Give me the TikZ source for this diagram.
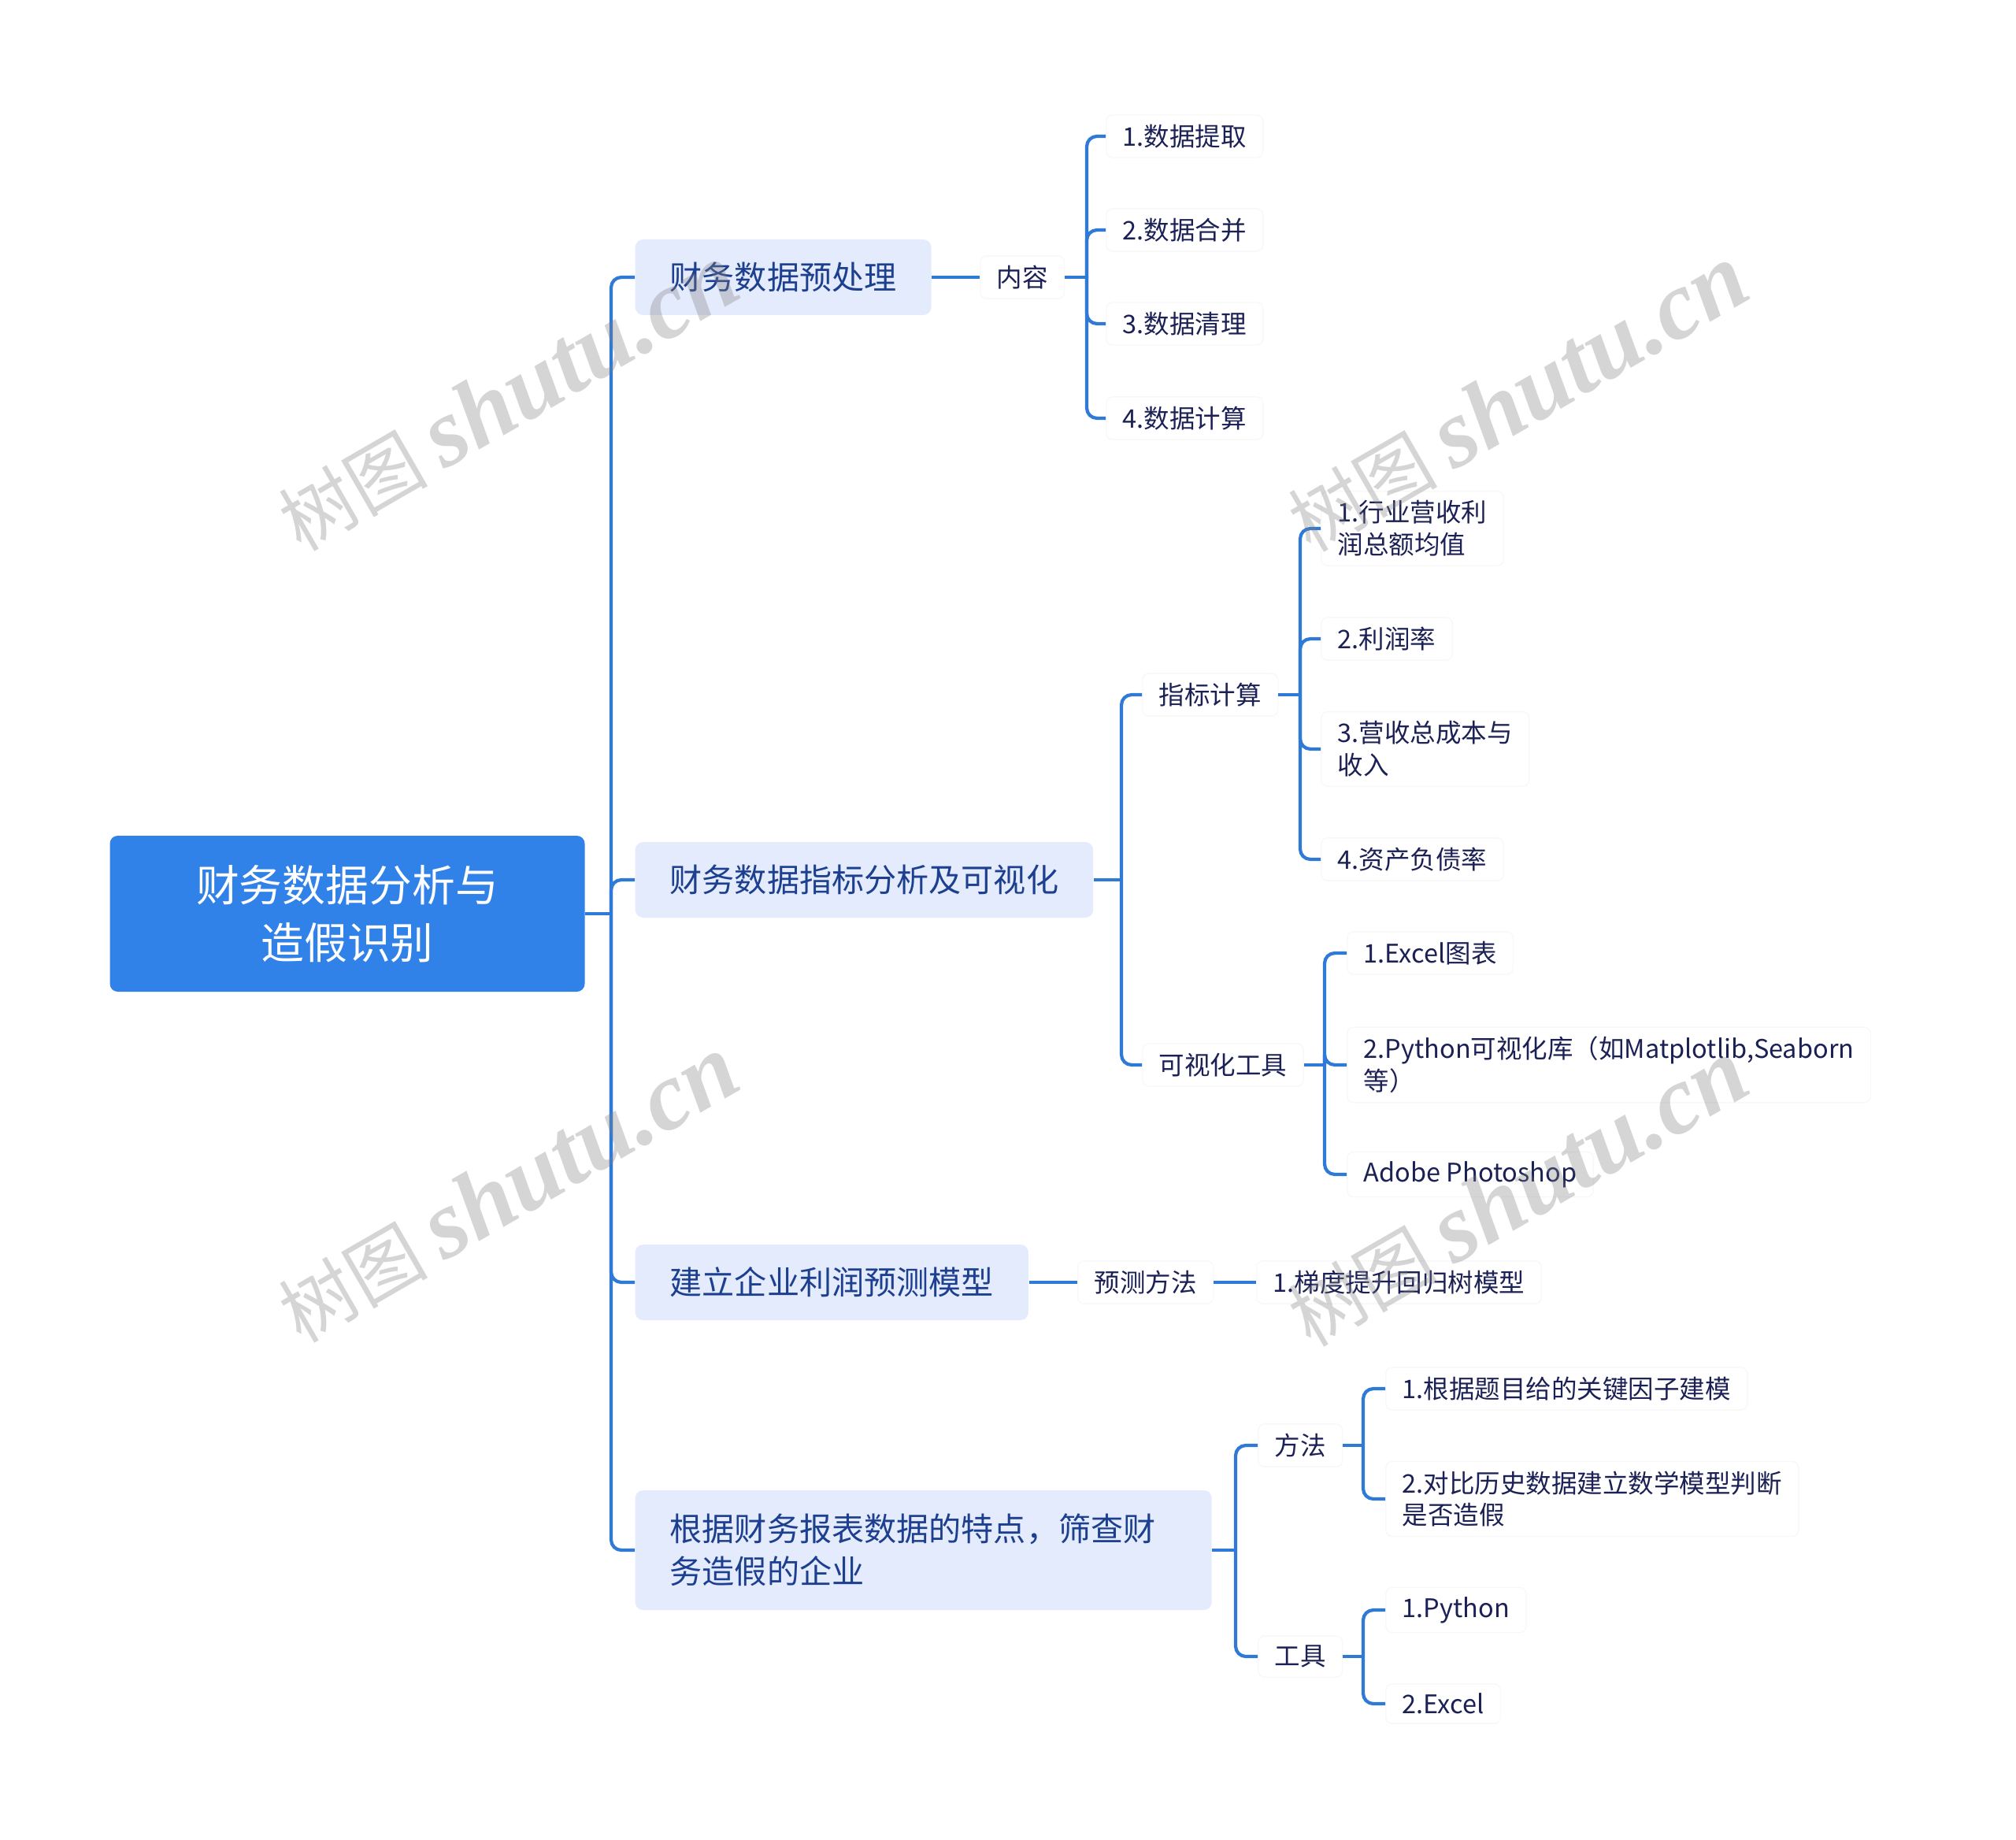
\documentclass[tikz,border=0pt]{standalone}
\usepackage{fontspec}
\setmainfont{Noto Sans CJK SC}
\newfontfamily\markfont{Liberation Serif}
\definecolor{rootblue}{HTML}{3081E8}
\definecolor{boxblue}{HTML}{E4EBFC}
\definecolor{lineblue}{HTML}{2F7AD6}
\definecolor{headtext}{HTML}{1D3F8F}
\definecolor{leaftext}{HTML}{1C2155}
\definecolor{faint}{HTML}{F8F8F9}
\tikzset{
  rootbox/.style={fill=rootblue, rounded corners=0.1cm, text=white, align=center,
    minimum width=6.03cm, minimum height=1.98cm, font=\fontsize{15.6}{20.8}\selectfont},
  headbox/.style={fill=boxblue, rounded corners=0.1cm, text=headtext, anchor=west,
    inner xsep=0.44cm, minimum height=0.96cm, font=\fontsize{11.7}{15.3}\selectfont},
  leaf/.style={fill=white, draw=faint, rounded corners=0.08cm, text=leaftext, anchor=west,
    align=left, inner xsep=0.21cm, inner ysep=0.12cm, font=\fontsize{9.25}{11.6}\selectfont},
  branch/.style={draw=lineblue, line width=1.2pt, rounded corners=0.13cm},
  watermark/.style={text=gray, opacity=0.33, rotate=30, font=\fontsize{27}{27}\selectfont}
}
\newcommand{\markname}{树图 {\markfont\bfseries\itshape\fontsize{35}{35}\selectfont shutu.cn}}
\begin{document}
\begin{tikzpicture}[x=1cm,y=-1cm]
  \useasboundingbox (0,0) rectangle (25.60,23.36);
  % root and main branches
  \node[rootbox] (root) at (4.41,11.60) {财务数据分析与\\造假识别};
  \node[headbox] (pre) at (8.06,3.52) {财务数据预处理};
  \node[headbox] (viz) at (8.06,11.17) {财务数据指标分析及可视化};
  \node[headbox] (model) at (8.06,16.28) {建立企业利润预测模型};
  \node[headbox, text width=6.44cm, align=left, minimum height=1.52cm] (fraud) at (8.06,19.68)
    {根据财务报表数据的特点，筛查财\\务造假的企业};
  % preprocessing
  \node[leaf] (cont) at (12.44,3.52) {内容};
  \node[leaf] (cont1) at (14.04,1.73) {1.数据提取};
  \node[leaf] (cont2) at (14.04,2.92) {2.数据合并};
  \node[leaf] (cont3) at (14.04,4.11) {3.数据清理};
  \node[leaf] (cont4) at (14.04,5.31) {4.数据计算};
  % indicators and visualisation
  \node[leaf] (metric) at (14.50,8.82) {指标计算};
  \node[leaf] (metric1) at (16.77,6.71) {1.行业营收利\\润总额均值};
  \node[leaf] (metric2) at (16.77,8.11) {2.利润率};
  \node[leaf] (metric3) at (16.77,9.51) {3.营收总成本与\\收入};
  \node[leaf] (metric4) at (16.77,10.91) {4.资产负债率};
  \node[leaf] (tools) at (14.50,13.52) {可视化工具};
  \node[leaf] (tools1) at (17.10,12.10) {1.Excel图表};
  \node[leaf] (tools2) at (17.10,13.52) {2.Python可视化库（如Matplotlib,Seaborn\\等）};
  \node[leaf] (tools3) at (17.10,14.91) {Adobe Photoshop};
  % prediction model
  \node[leaf] (method) at (13.68,16.28) {预测方法};
  \node[leaf] (gbr) at (15.95,16.28) {1.梯度提升回归树模型};
  % fraud screening
  \node[leaf] (way) at (15.97,18.35) {方法};
  \node[leaf] (way1) at (17.59,17.63) {1.根据题目给的关键因子建模};
  \node[leaf] (way2) at (17.59,19.03) {2.对比历史数据建立数学模型判断\\是否造假};
  \node[leaf] (kit) at (15.97,21.03) {工具};
  \node[leaf] (kit1) at (17.59,20.44) {1.Python};
  \node[leaf] (kit2) at (17.59,21.63) {2.Excel};
  % junctions
  \coordinate (jroot) at (7.76,11.60);
  \coordinate (jcont) at (13.80,3.52);
  \coordinate (jviz) at (14.24,11.17);
  \coordinate (jmetric) at (16.51,8.82);
  \coordinate (jtools) at (16.82,13.52);
  \coordinate (jfraud) at (15.69,19.68);
  \coordinate (jway) at (17.31,18.35);
  \coordinate (jkit) at (17.31,21.03);
  % connectors
  \draw[branch] (root.east) -- (jroot);
  \foreach \n in {pre,viz,model,fraud} \draw[branch] (jroot) |- (\n.west);
  \draw[branch] (pre.east) -- (cont.west);
  \draw[branch] (cont.east) -- (jcont);
  \foreach \n in {cont1,cont2,cont3,cont4} \draw[branch] (jcont) |- (\n.west);
  \draw[branch] (viz.east) -- (jviz);
  \foreach \n in {metric,tools} \draw[branch] (jviz) |- (\n.west);
  \draw[branch] (metric.east) -- (jmetric);
  \foreach \n in {metric1,metric2,metric3,metric4} \draw[branch] (jmetric) |- (\n.west);
  \draw[branch] (tools.east) -- (jtools);
  \foreach \n in {tools1,tools2,tools3} \draw[branch] (jtools) |- (\n.west);
  \draw[branch] (model.east) -- (method.west);
  \draw[branch] (method.east) -- (gbr.west);
  \draw[branch] (fraud.east) -- (jfraud);
  \foreach \n in {way,kit} \draw[branch] (jfraud) |- (\n.west);
  \draw[branch] (way.east) -- (jway);
  \foreach \n in {way1,way2} \draw[branch] (jway) |- (\n.west);
  \draw[branch] (kit.east) -- (jkit);
  \foreach \n in {kit1,kit2} \draw[branch] (jkit) |- (\n.west);
  % watermarks
  \node[watermark] (mark1) at (6.45,5.05) {\markname};
  \node[watermark] (mark2) at (19.27,5.06) {\markname};
  \node[watermark] (mark3) at (6.45,15.10) {\markname};
  \node[watermark] (mark4) at (19.27,15.15) {\markname};
\end{tikzpicture}
\end{document}
